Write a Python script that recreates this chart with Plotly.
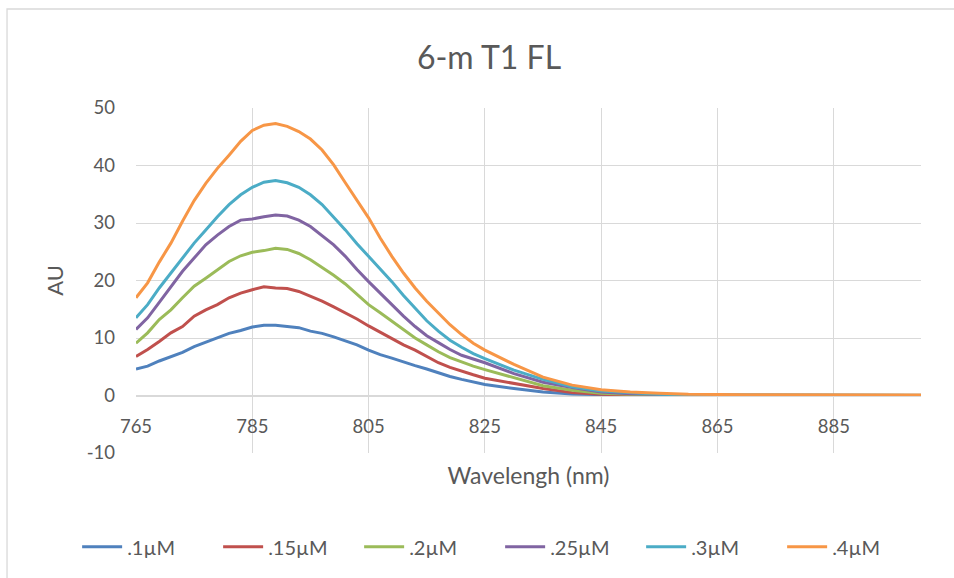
import plotly.graph_objects as go

wavelength = [765, 767, 769, 771, 773, 775, 777, 779, 781, 783, 785, 787, 789, 791, 793,
              795, 797, 799, 801, 803, 805, 807, 809, 811, 813, 815, 817, 819, 821, 823, 825,
              830, 835, 840, 845, 850, 855, 860, 870, 880, 890, 900]

s01 = [4.6, 5.1, 6.0, 6.8, 7.5, 8.5, 9.3, 10.0, 10.8, 11.3, 11.9, 12.2, 12.2, 12.0, 11.8,
       11.2, 10.8, 10.2, 9.5, 8.8, 7.9, 7.1, 6.5, 5.8, 5.2, 4.6, 3.9, 3.3, 2.8, 2.3, 1.9,
       1.2, 0.6, 0.25, 0.1, 0.05, 0.02, 0.0, 0.0, 0.0, 0.0, 0.0]
s015 = [6.8, 8.0, 9.4, 10.9, 12.0, 13.8, 14.9, 15.8, 17.0, 17.8, 18.4, 18.9, 18.7, 18.6, 18.1,
        17.3, 16.4, 15.4, 14.4, 13.3, 12.1, 11.0, 9.8, 8.8, 7.9, 6.8, 5.7, 4.9, 4.2, 3.6, 3.0,
        2.1, 1.2, 0.5, 0.2, 0.1, 0.05, 0.03, 0.02, 0.02, 0.02, 0.02]
s02 = [9.1, 10.9, 13.2, 14.9, 17.0, 19.0, 20.4, 21.9, 23.3, 24.3, 24.9, 25.2, 25.6, 25.4, 24.7,
       23.6, 22.3, 20.9, 19.4, 17.6, 15.8, 14.4, 12.9, 11.4, 10.0, 8.8, 7.6, 6.6, 5.8, 5.1, 4.5,
       3.1, 1.7, 0.9, 0.4, 0.2, 0.1, 0.05, 0.03, 0.02, 0.02, 0.02]
s025 = [11.5, 13.5, 16.2, 19.0, 21.6, 23.9, 26.2, 27.9, 29.4, 30.5, 30.7, 31.1, 31.4, 31.2, 30.5,
        29.4, 27.8, 26.2, 24.2, 21.9, 19.8, 17.8, 15.8, 13.8, 12.0, 10.4, 9.2, 8.0, 7.0, 6.3, 5.7,
        3.8, 2.3, 1.4, 0.6, 0.3, 0.15, 0.08, 0.04, 0.02, 0.02, 0.02]
s03 = [13.5, 15.8, 18.7, 21.3, 23.9, 26.5, 28.8, 31.1, 33.2, 34.9, 36.2, 37.1, 37.4, 37.0, 36.2,
       34.9, 33.2, 31.0, 28.8, 26.4, 24.2, 22.0, 19.8, 17.4, 15.2, 13.0, 11.2, 9.6, 8.4, 7.3, 6.4,
       4.4, 2.8, 1.5, 0.8, 0.5, 0.2, 0.1, 0.05, 0.05, 0.03, 0.03]
s04 = [17.0, 19.6, 23.2, 26.5, 30.3, 33.9, 36.9, 39.5, 41.8, 44.2, 46.1, 47.0, 47.3, 46.8, 45.9,
       44.6, 42.7, 40.1, 37.0, 34.0, 30.9, 27.4, 24.2, 21.3, 18.7, 16.4, 14.3, 12.3, 10.6, 9.1, 7.9,
       5.4, 3.2, 1.8, 1.0, 0.6, 0.4, 0.2, 0.12, 0.1, 0.08, 0.08]

series_names = [".1µM", ".15µM", ".2µM", ".25µM", ".3µM", ".4µM"]
series_values = [s01, s015, s02, s025, s03, s04]
colors = ["#4F81BD", "#C0504D", "#9BBB59", "#8064A2", "#4BACC6", "#F79646"]

x_ticks = [765, 785, 805, 825, 845, 865, 885]
y_ticks = [-10, 0, 10, 20, 30, 40, 50]
y_tick_text = ["-10", "0", "10", "20", "30", "40", "50"]

FONT = "Lato, Open Sans, sans-serif"
TXT = "#595959"
GRID = "#D9D9D9"

fig = go.Figure()
for name, vals, col in zip(series_names, series_values, colors):
    fig.add_trace(go.Scatter(x=wavelength, y=vals, mode="lines", name=name,
                             line=dict(color=col, width=3)))

fig.update_layout(
    width=954, height=578,
    paper_bgcolor="white", plot_bgcolor="white",
    margin=dict(l=136, r=33, t=108, b=125, autoexpand=False),
    font=dict(family=FONT, color=TXT, size=18),
    title=dict(text="6-m T1 FL", x=0.5126, xanchor="center", xref="container",
               y=0.9, yanchor="middle", yref="container",
               font=dict(size=32, color=TXT, family=FONT)),
    showlegend=True,
    legend=dict(orientation="h", x=-0.075, xanchor="left", y=-0.272, yanchor="middle",
                font=dict(size=20, color=TXT, family=FONT), itemwidth=40,
                entrywidth=86, entrywidthmode="pixels",
                traceorder="normal"),
    xaxis=dict(range=[765, 900], tickvals=x_ticks, ticktext=[str(v) for v in x_ticks],
               showgrid=True, gridcolor=GRID, gridwidth=1,
               showline=True, linecolor=GRID, linewidth=1.3,
               anchor="free", position=1/6, zeroline=False,
               ticks="", ticklabelstandoff=14, tickfont=dict(size=18.5, color=TXT),
               automargin=False,
               title=dict(text="Wavelengh (nm)", font=dict(size=23, color=TXT), standoff=32)),
    yaxis=dict(range=[-10, 50], tickvals=y_ticks, ticktext=y_tick_text,
               showgrid=True, gridcolor=GRID,
               gridwidth=1, zeroline=False, showline=False, ticks="",
               ticklabelstandoff=20, automargin=False,
               tickfont=dict(size=18.5, color=TXT),
               title=dict(text="AU", font=dict(size=22, color=TXT), standoff=16)),
    shapes=[dict(type="rect", xref="paper", yref="paper", x0=-0.1643, x1=1.2,
                 y0=-0.8, y1=1.287, line=dict(color=GRID, width=1.3),
                 fillcolor="rgba(0,0,0,0)", layer="below")],
)

fig.write_html("out.html", config={"displayModeBar": False},
               post_script="document.body.style.margin='0';document.body.style.padding='0';")
